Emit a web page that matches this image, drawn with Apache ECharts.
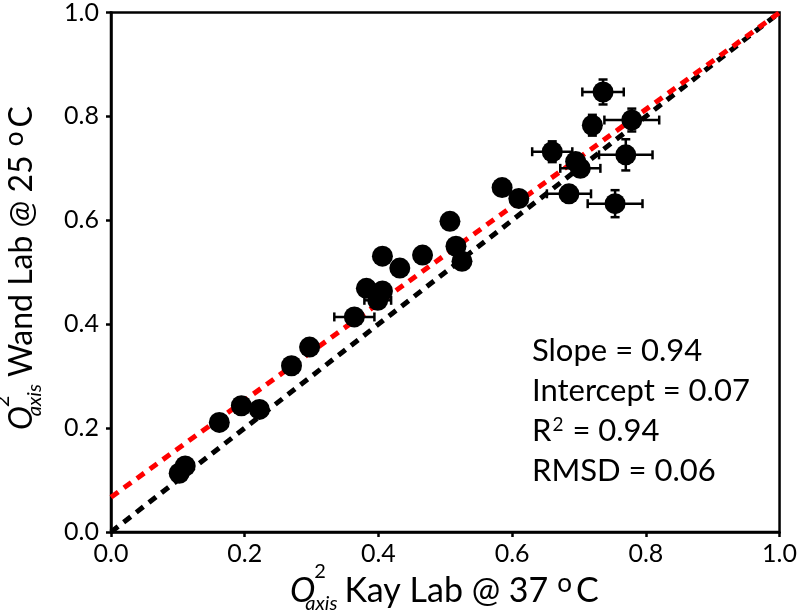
<!DOCTYPE html>
<html>
<head>
<meta charset="utf-8">
<script src="https://cdn.jsdelivr.net/npm/echarts@6/dist/echarts.min.js"></script>
<style>
html,body{margin:0;padding:0;background:#fff;}
#chart{width:800px;height:613px;}
</style>
</head>
<body>
<div id="chart"></div>
<script>
// ---- data ----
const kayX = [0.102,0.111,0.162,0.195,0.222,0.270,0.297,0.364,0.382,0.399,0.406,0.406,0.432,0.466,0.507,0.516,0.525,0.585,0.610,0.660,0.685,0.695,0.702,0.720,0.736,0.754,0.770,0.779];
const wandY = [0.113,0.127,0.211,0.243,0.236,0.320,0.356,0.414,0.469,0.446,0.464,0.531,0.508,0.533,0.598,0.550,0.521,0.663,0.642,0.732,0.651,0.713,0.700,0.783,0.847,0.632,0.726,0.793];
const kayErr = [0,0,0,0,0,0,0,0.03,0,0.02,0,0,0,0,0,0,0,0,0,0.03,0.033,0,0.03,0,0.031,0.041,0.04,0.041];
const wandErr = [0,0,0,0,0,0,0,0,0,0,0,0,0,0,0,0,0,0,0,0.02,0,0.015,0,0.02,0.024,0.026,0.03,0.022];
const identityLine = [[0,0],[1,1]];
const fitLine = [[0,0.067],[1,1.0]];
const tickValues = [0,0.2,0.4,0.6,0.8,1.0];
const statLines = [
  {label:'Slope', sup:'', value:'0.94'},
  {label:'Intercept', sup:'', value:'0.07'},
  {label:'R', sup:'2', value:'0.94'},
  {label:'RMSD', sup:'', value:'0.06'}
];
const xTitleMain = 'Kay Lab @ 37';
const yTitleMain = 'Wand Lab @ 25';

// ---- text helpers ----
const FONT = 'Lato';
const mctx = document.createElement('canvas').getContext('2d');
function tw(t, size, italic){ mctx.font = (italic?'italic ':'') + size + 'px ' + FONT; return mctx.measureText(t).width; }
function txt(x, y, text, size, italic, align){
  return {type:'text', x:x, y:y, silent:true, style:{text:text, fill:'#000', fontFamily:FONT, fontSize:size, fontStyle: italic?'italic':'normal', textAlign: align||'left', textVerticalAlign:'middle'}};
}
function titleGroup(main, pos, rotation, s){
  const ss = 20;
  const wO = tw('O', s, true);
  const kids = [];
  kids.push(txt(0, 0, 'O', s, true));
  kids.push(txt(wO - 1, -19, '2', ss, false));
  kids.push(txt(wO - 10, 13, 'axis', ss, true));
  let x = Math.max(wO - 1 + tw('2', ss), wO - 10 + tw('axis', ss, true)) + 7;
  kids.push(txt(x, 0, main, s, false));
  x += tw(main, s) + 9;
  const os = 26;
  kids.push(txt(x, -7, 'o', os, false));
  x += tw('o', os) + 4;
  kids.push(txt(x, 0, 'C', s, false));
  return {type:'group', x:pos[0], y:pos[1], rotation:rotation, children:kids};
}
const sSize = 31;
const statY = [351, 391, 431, 471];
const statEls = [];
statLines.forEach((ln, i) => {
  let x = 532;
  statEls.push(txt(x, statY[i], ln.label, sSize, false));
  x += tw(ln.label, sSize);
  if (ln.sup) {
    const ss = 19;
    statEls.push(txt(x + 1, statY[i] - 6, ln.sup, ss, false));
    x += tw(ln.sup, ss) + 2;
  }
  statEls.push(txt(x, statY[i], ' = ' + ln.value, sSize, false));
});

const pts = kayX.map((x, i) => [x, wandY[i], kayErr[i], wandErr[i]]);

const axisCommon = {
  type:'value', min:0, max:1, interval:0.2,
  axisLine:{show:true, onZero:false, lineStyle:{color:'#000', width:2.5}},
  axisTick:{show:true, length:5, inside:false, lineStyle:{color:'#000', width:2.5}},
  splitLine:{show:false},
  axisLabel:{color:'#000', fontFamily:FONT, fontSize:25, showMinLabel:true, showMaxLabel:true,
    formatter: v => tickValues.some(t => Math.abs(t - v) < 1e-9) ? v.toFixed(1) : ''}
};

const chart = echarts.init(document.getElementById('chart'), null, {renderer:'canvas'});
chart.setOption({
  animation:false,
  backgroundColor:'#fff',
  grid:{left:111, right:18, top:10, bottom:81, show:true, borderColor:'#000', borderWidth:2.5, backgroundColor:'transparent'},
  xAxis: Object.assign({}, axisCommon, {axisLabel:Object.assign({}, axisCommon.axisLabel, {margin:9})}),
  yAxis: Object.assign({}, axisCommon, {axisLabel:Object.assign({}, axisCommon.axisLabel, {margin:12})}),
  series:[
    {type:'line', data:identityLine, symbol:'none', silent:true, z:2,
      lineStyle:{color:'#000', width:5, type:[9,7], cap:'butt'}},
    {type:'line', data:fitLine, symbol:'none', silent:true, z:2,
      lineStyle:{color:'#ff0000', width:5, type:[9,7], cap:'butt'}},
    {type:'custom', data:pts, z:3, silent:true,
      renderItem:function(params, api){
        const x = api.value(0), y = api.value(1), ex = api.value(2), ey = api.value(3);
        const kids = [];
        const st = {stroke:'#000', lineWidth:2.5};
        const cap = 4.5;
        if (ex > 0) {
          const a = api.coord([x - ex, y]), b = api.coord([x + ex, y]);
          kids.push({type:'line', shape:{x1:a[0], y1:a[1], x2:b[0], y2:b[1]}, style:st});
          kids.push({type:'line', shape:{x1:a[0], y1:a[1]-cap, x2:a[0], y2:a[1]+cap}, style:st});
          kids.push({type:'line', shape:{x1:b[0], y1:b[1]-cap, x2:b[0], y2:b[1]+cap}, style:st});
        }
        if (ey > 0) {
          const a = api.coord([x, y - ey]), b = api.coord([x, y + ey]);
          kids.push({type:'line', shape:{x1:a[0], y1:a[1], x2:b[0], y2:b[1]}, style:st});
          kids.push({type:'line', shape:{x1:a[0]-cap, y1:a[1], x2:a[0]+cap, y2:a[1]}, style:st});
          kids.push({type:'line', shape:{x1:b[0]-cap, y1:b[1], x2:b[0]+cap, y2:b[1]}, style:st});
        }
        return {type:'group', children:kids};
      }},
    {type:'scatter', data:pts.map(p => [p[0], p[1]]), symbol:'circle', symbolSize:21, z:4, silent:true,
      itemStyle:{color:'#000', opacity:1}}
  ],
  graphic:[
    titleGroup(xTitleMain, [290, 591], 0, 34),
    titleGroup(yTitleMain, [21.5, 430], Math.PI/2, 32)
  ].concat(statEls)
});
</script>
</body>
</html>
